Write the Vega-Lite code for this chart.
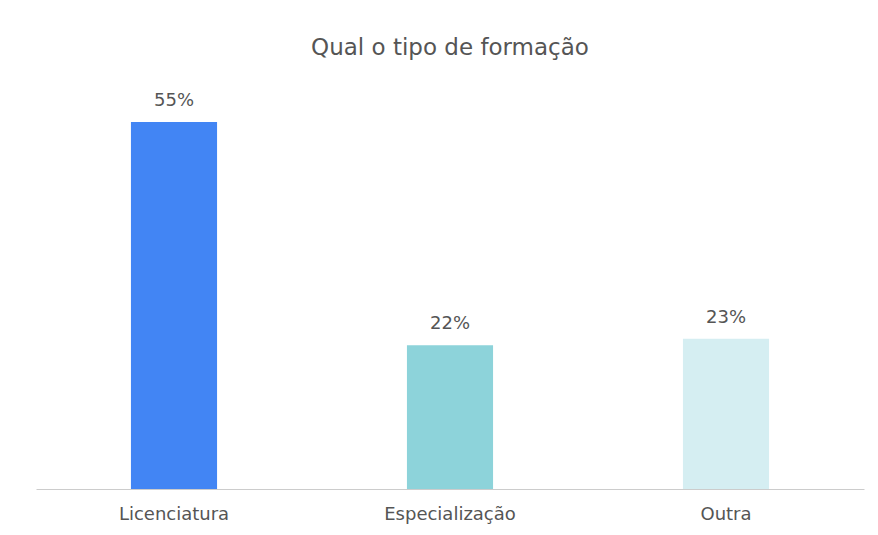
{
  "$schema": "https://vega.github.io/schema/vega-lite/v6.json",
  "width": 828,
  "height": 399,
  "autosize": "none",
  "padding": {"left": 36, "top": 90, "right": 14, "bottom": 46},
  "background": "white",
  "title": {
    "text": "Qual o tipo de formação",
    "anchor": "middle",
    "font": "DejaVu Sans",
    "fontSize": 23,
    "fontWeight": "normal",
    "color": "#555555",
    "offset": 30
  },
  "data": {
    "values": [
      {"tipo": "Licenciatura", "pct": 0.552},
      {"tipo": "Especialização", "pct": 0.216},
      {"tipo": "Outra", "pct": 0.226}
    ]
  },
  "encoding": {
    "x": {
      "field": "tipo",
      "type": "nominal",
      "sort": null,
      "scale": {"paddingInner": 0.688, "paddingOuter": 0.344},
      "axis": {
        "title": null,
        "labelAngle": 0,
        "ticks": false,
        "domainColor": "#cccccc",
        "labelFont": "DejaVu Sans",
        "labelFontSize": 18,
        "labelColor": "#555555",
        "labelPadding": 16
      }
    },
    "y": {
      "field": "pct",
      "type": "quantitative",
      "scale": {"domain": [0, 0.6], "nice": false},
      "axis": null
    }
  },
  "layer": [
    {
      "mark": {"type": "bar"},
      "encoding": {
        "color": {
          "field": "tipo",
          "type": "nominal",
          "sort": null,
          "scale": {"domain": ["Licenciatura", "Especialização", "Outra"], "range": ["#4285f4", "#8dd3da", "#d5eef2"]},
          "legend": null
        }
      }
    },
    {
      "mark": {"type": "text", "baseline": "alphabetic", "dy": -16, "font": "DejaVu Sans", "fontSize": 18, "color": "#555555"},
      "encoding": {
        "text": {"field": "pct", "type": "quantitative", "format": ".0%"}
      }
    }
  ],
  "config": {"view": {"stroke": null}}
}
